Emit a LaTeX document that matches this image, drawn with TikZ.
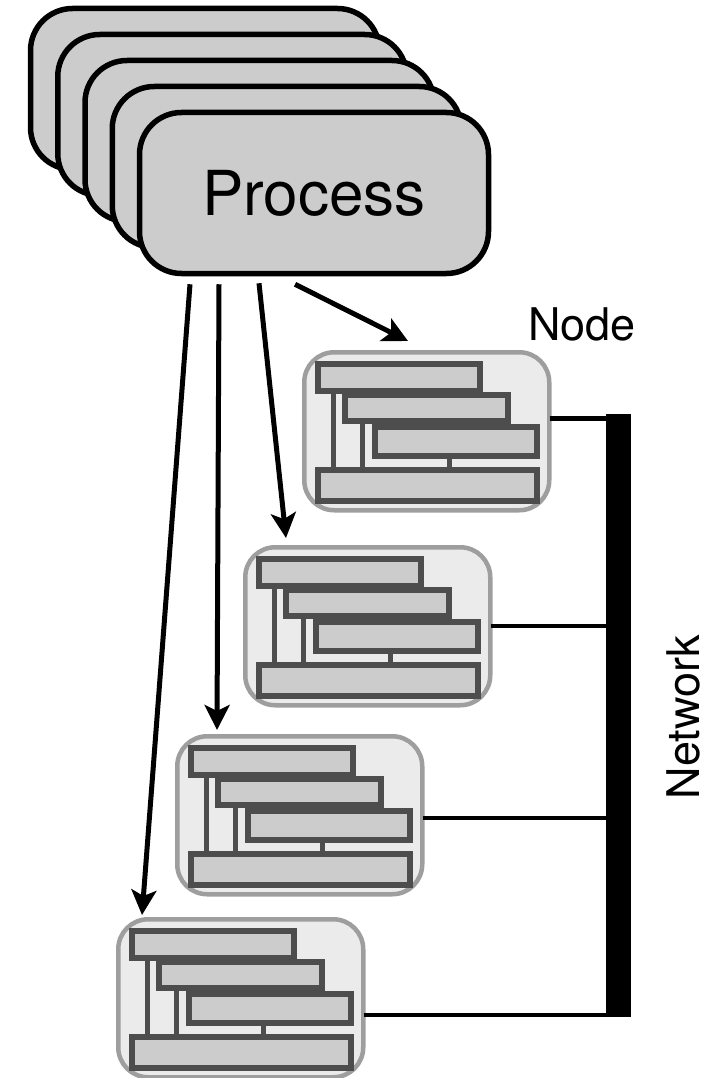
\documentclass[tikz,border=0pt]{standalone}
\usepackage{fontspec}
\setmainfont{TeX Gyre Heros}
\usetikzlibrary{arrows.meta}
\definecolor{procfill}{HTML}{CCCCCC}
\definecolor{hostfill}{HTML}{EBEBEB}
\definecolor{hostedge}{HTML}{9E9E9E}
\definecolor{bardraw}{HTML}{4D4D4D}
\tikzset{
  procbox/.style={draw=black, fill=procfill, line width=5.5pt, rounded corners=42pt,
    minimum width=349pt, minimum height=161pt, inner sep=0pt},
  hostbox/.style={draw=hostedge, fill=hostfill, line width=4.5pt, rounded corners=30pt,
    minimum width=245pt, minimum height=158pt, inner sep=0pt, anchor=north west},
  unitbar/.style={draw=bardraw, fill=procfill, line width=5.5pt},
  unitlink/.style={draw=bardraw, line width=5pt},
  arr/.style={line width=5pt, -{Stealth[length=25pt, width=25pt, inset=6pt]}},
  netlink/.style={line width=4.5pt},
  lbl/.style={font=\fontsize{45}{45}\selectfont, inner sep=0pt}
}
% stacked server drawing inside a host box
\newcommand{\hostunits}[1]{%
  \begin{scope}[shift={(#1.north west)}]
    \draw[unitlink] (31,41) -- (31,120);
    \draw[unitlink] (60,71) -- (60,120);
    \draw[unitlink] (147,106) -- (147,120);
    \draw[unitbar] (16,14) rectangle (178,41);
    \draw[unitbar] (43,45) rectangle (206,71);
    \draw[unitbar] (73,77) rectangle (235,106);
    \draw[unitbar] (16,120) rectangle (235,151);
  \end{scope}}
\begin{document}
\begin{tikzpicture}[x=1pt, y=-1pt]
  \useasboundingbox (0,0) rectangle (707,1078);

  % stack of processes, back to front
  \node[procbox] (P4) at (205,89) {};
  \node[procbox] (P3) at (232.25,115) {};
  \node[procbox] (P2) at (259.5,141) {};
  \node[procbox] (P1) at (286.75,167) {};
  \node[procbox, font=\fontsize{62}{62}\selectfont] (P) at (314,193) {Process};

  % host machines
  \node[hostbox] (N1) at (302,350) {};
  \node[hostbox] (N2) at (243,545) {};
  \node[hostbox] (N3) at (175,734) {};
  \node[hostbox] (N4) at (116,917) {};
  \hostunits{N1}
  \hostunits{N2}
  \hostunits{N3}
  \hostunits{N4}

  % network backbone
  \node[fill=black, minimum width=25pt, minimum height=603pt, inner sep=0pt,
        outer sep=0pt, anchor=north west] (net) at (606,414) {};
  \coordinate (h1) at (0,418.5);
  \coordinate (h2) at (0,626);
  \coordinate (h3) at (0,818);
  \coordinate (h4) at (0,1015);
  \draw[netlink] ([xshift=-2pt]N1.east |- h1) -- (net.east |- h1);
  \draw[netlink] ([xshift=-2pt]N2.east |- h2) -- (net.center |- h2);
  \draw[netlink] ([xshift=-2pt]N3.east |- h3) -- (net.center |- h3);
  \draw[netlink] ([xshift=-2pt]N4.east |- h4) -- (net.east |- h4);

  % process to host arrows
  \draw[arr] ([xshift=-19pt, yshift=-8pt]P.south) -- ([xshift=106pt, yshift=9pt]N1.north west);
  \draw[arr] ([xshift=-55pt, yshift=-7pt]P.south) -- ([xshift=43pt, yshift=7pt]N2.north west);
  \draw[arr] ([xshift=-95pt, yshift=-8pt]P.south) -- ([xshift=42pt, yshift=4pt]N3.north west);
  \draw[arr] ([xshift=-124pt, yshift=-8pt]P.south) -- ([xshift=26pt, yshift=2pt]N4.north west);

  % labels
  \node[lbl, anchor=base] (nodelbl) at (582,340) {Node};
  \node[lbl, rotate=90] (netlbl) at (683,717) {Network};
\end{tikzpicture}
\end{document}
